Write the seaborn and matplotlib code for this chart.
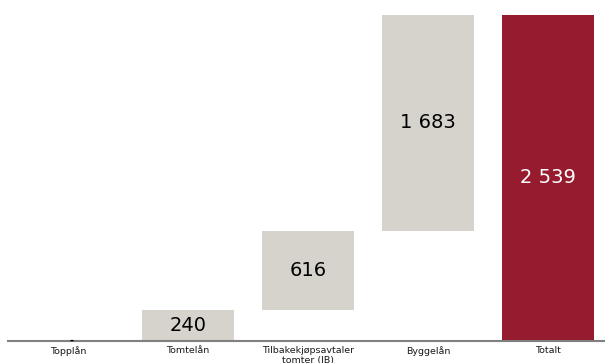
import matplotlib
matplotlib.use("Agg")
import matplotlib.pyplot as plt
import seaborn as sns
import pandas as pd
import numpy as np

categories = ["Topplån", "Tomtelån", "Tilbakekjøpsavtaler\ntomter (IB)", "Byggelån", "Totalt"]
values = [0, 240, 616, 1683, 2539]
labels = ["-", "240", "616", "1 683", "2 539"]
is_total = [False, False, False, False, True]

grey = "#d6d2cc"
red = "#961b2f"

# waterfall bottoms: cumulative of previous steps; total starts at 0
bottoms = []
run = 0
for v, t in zip(values, is_total):
    if t:
        bottoms.append(0)
    else:
        bottoms.append(run)
        run += v

sns.set_style("white")
plt.rcParams["font.family"] = ["DejaVu Sans"]

fig = plt.figure(figsize=(6.05, 3.63), dpi=100)
ax = fig.add_axes([8 / 605, 22 / 363, 600 / 605, 341 / 363])

df = pd.DataFrame({"cat": categories, "val": values})
palette = {c: (red if t else grey) for c, t in zip(categories, is_total)}
sns.barplot(data=df, x="cat", y="val", hue="cat", palette=palette, legend=False,
            width=0.77, ax=ax, saturation=1, linewidth=0)

for patch, b in zip(ax.patches, bottoms):
    patch.set_y(b)

for i, (v, b, lab, t) in enumerate(zip(values, bottoms, labels, is_total)):
    if v == 0:
        ax.text(i + 0.03, b + 5, lab, ha="center", va="center", fontsize=7,
                fontweight="bold", color="black")
    else:
        ax.text(i, b + v / 2, lab, ha="center", va="center", fontsize=14,
                color="white" if t else "black")

ax.set_xlim(-0.5, 4.5)
ax.set_ylim(0, 2655)
ax.set_xlabel("")
ax.set_ylabel("")
ax.set_yticks([])
ax.set_xticks(range(len(categories)))
ax.set_xticklabels(categories, fontsize=6.8, color="#1a1a1a", linespacing=1.1)
ax.set_xticks(np.arange(-0.5, 5.0, 1.0), minor=True)
ax.tick_params(axis="x", which="major", length=0, pad=3.5)
ax.tick_params(axis="x", which="minor", length=2.5, width=1, color="#808080",
               direction="out")
for s in ["top", "right", "left"]:
    ax.spines[s].set_visible(False)
ax.spines["bottom"].set_color("#808080")
ax.spines["bottom"].set_linewidth(1.5)

fig.savefig("out.png", dpi=100)
